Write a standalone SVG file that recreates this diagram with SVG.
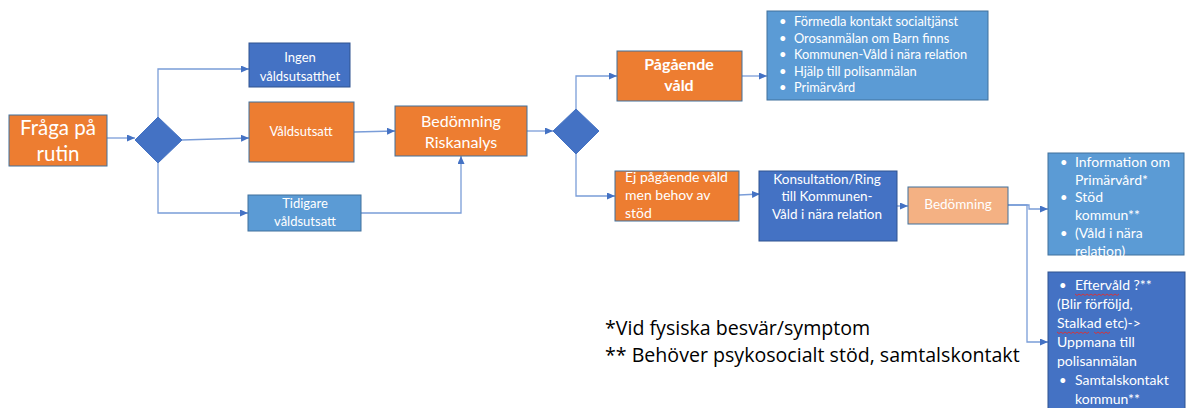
<svg xmlns="http://www.w3.org/2000/svg" width="1186" height="408" viewBox="0 0 1186 408" font-size="13">
<style>
text{font-family:Lato,"Liberation Sans",sans-serif;fill:#fff}
.c{text-anchor:middle}
.orange{fill:#ED7D31;stroke:#41719C;stroke-width:1}
.dblue{fill:#4472C4;stroke:#2F528F;stroke-width:1}
.lblue{fill:#5B9BD5;stroke:#41719C;stroke-width:1}
.peach{fill:#F4B183;stroke:#41719C;stroke-width:1}
.conn path{fill:none;stroke:#7A9DD8;stroke-width:1.3;marker-end:url(#ah)}
.foot{fill:#000;font-size:19.6px;font-family:"Open Sans",Lato,"Liberation Sans",sans-serif}
.squig{fill:none;stroke:#E03030;stroke-width:0.9}
</style>
<defs>
<marker id="ah" markerUnits="userSpaceOnUse" markerWidth="9" markerHeight="8" refX="8" refY="3.5" orient="auto">
<path d="M0,0 L8,3.5 L0,7 z" fill="#4472C4"/>
</marker>
</defs>
<rect width="1186" height="408" fill="#fff"/>

<g class="conn">
<path d="M107,138 H135"/>
<path d="M158,117 V69 H249"/>
<path d="M182,140 L249,138"/>
<path d="M158,163 V213 H248"/>
<path d="M354,132 L395,131"/>
<path d="M361,213 H461 V156"/>
<path d="M527,131 H553"/>
<path d="M576,109 V76 H617"/>
<path d="M576,154 V196 H615"/>
<path d="M742,76 H767"/>
<path d="M739,195 L760,194"/>
<path d="M897,206 H908"/>
<path d="M1008,205 H1029 V209 H1048"/>
<path d="M1008,205 H1027 V342 H1048"/>
</g>

<g id="fraga">
<rect class="orange" x="9" y="115" width="98" height="51"/>
<text class="c" x="58" y="135" font-size="20.5">Fråga på</text>
<text class="c" x="58" y="161" font-size="20.5">rutin</text>
</g>

<g id="diamond1">
<path class="dblue" d="M158,117 L182,140 L158,163 L135,140 z" style="stroke:#4472C4"/>
</g>

<g id="ingen">
<rect class="dblue" x="249" y="43" width="101" height="44"/>
<text class="c" x="300" y="62">Ingen</text>
<text class="c" x="300" y="81">våldsutsatthet</text>
</g>

<g id="valdsutsatt">
<rect class="orange" x="249" y="102" width="105" height="60"/>
<text class="c" x="301" y="136">Våldsutsatt</text>
</g>

<g id="tidigare">
<rect class="lblue" x="248" y="195" width="113" height="36"/>
<text class="c" x="305" y="208">Tidigare</text>
<text class="c" x="305" y="226">våldsutsatt</text>
</g>

<g id="bedomning-risk">
<rect class="orange" x="395" y="106" width="132" height="50"/>
<text class="c" x="461" y="127" font-size="16">Bedömning</text>
<text class="c" x="461" y="148" font-size="16">Riskanalys</text>
</g>

<g id="diamond2">
<path class="dblue" d="M576,109 L599,131 L576,154 L553,131 z" style="stroke:#4472C4"/>
</g>

<g id="pagaende">
<rect class="orange" x="617" y="51" width="125" height="50"/>
<text class="c" x="679" y="70" font-size="16" font-weight="bold">Pågående</text>
<text class="c" x="679" y="91" font-size="16" font-weight="bold">våld</text>
</g>

<g id="atgarder">
<rect class="lblue" x="767" y="11" width="221" height="89"/>
<text x="779" y="26">•</text><text x="794" y="26" font-size="12.8">Förmedla kontakt socialtjänst</text>
<text x="779" y="43">•</text><text x="794" y="43" font-size="12.8">Orosanmälan om Barn finns</text>
<text x="779" y="59">•</text><text x="794" y="59" font-size="12.8">Kommunen-Våld i nära relation</text>
<text x="779" y="76">•</text><text x="794" y="76" font-size="12.8">Hjälp till polisanmälan</text>
<text x="779" y="92">•</text><text x="794" y="92" font-size="12.8">Primärvård</text>
</g>

<g id="ej-pagaende">
<rect class="orange" x="615" y="171" width="124" height="50"/>
<text x="625" y="182" font-size="14">Ej pågående våld</text>
<text x="625" y="200" font-size="14">men behov av</text>
<text x="625" y="218" font-size="14">stöd</text>
</g>

<g id="konsultation">
<rect class="dblue" x="759" y="171" width="138" height="70"/>
<text class="c" x="827" y="184" font-size="13.5">Konsultation/Ring</text>
<text class="c" x="827" y="201" font-size="13.5">till Kommunen-</text>
<text class="c" x="827" y="219" font-size="13.5">Våld i nära relation</text>
</g>

<g id="bedomning2">
<rect class="peach" x="908" y="187" width="100" height="37"/>
<text class="c" x="958" y="209" font-size="13.5">Bedömning</text>
</g>

<g id="information">
<rect class="lblue" x="1048" y="153" width="136" height="102"/>
<text x="1060" y="167">•</text><text x="1075" y="167" font-size="14">Information om</text>
<text x="1075" y="185" font-size="14">Primärvård*</text>
<text x="1060" y="202">•</text><text x="1075" y="202" font-size="14">Stöd</text>
<text x="1075" y="220" font-size="14">kommun**</text>
<text x="1060" y="238">•</text><text x="1075" y="238" font-size="14"> (Våld i nära</text>
<text x="1075" y="256" font-size="14">relation)</text>
</g>

<g id="eftervald">
<rect class="dblue" x="1048" y="272" width="137" height="140"/>
<text x="1059" y="290">•</text><text x="1075" y="290" font-size="14">Eftervåld ?**</text>
<text x="1057" y="309" font-size="14">(Blir förföljd,</text>
<text x="1057" y="328" font-size="14">Stalkad etc)-&gt;</text>
<text x="1057" y="347" font-size="14">Uppmana till</text>
<text x="1057" y="366" font-size="14">polisanmälan</text>
<text x="1059" y="385">•</text><text x="1075" y="385" font-size="14">Samtalskontakt</text>
<text x="1075" y="404" font-size="14">kommun**</text>
<path class="squig" d="M1075,294 l2,1.5 l2,-1.5 l2,1.5 l2,-1.5 l2,1.5 l2,-1.5 l2,1.5 l2,-1.5 l2,1.5 l2,-1.5 l2,1.5 l2,-1.5 l2,1.5 l2,-1.5 l2,1.5 l2,-1.5 l2,1.5 l2,-1.5 l2,1.5 l2,-1.5 l2,1.5 l2,-1.5"/>
<path class="squig" d="M1057,332 l2,1.5 l2,-1.5 l2,1.5 l2,-1.5 l2,1.5 l2,-1.5 l2,1.5 l2,-1.5 l2,1.5 l2,-1.5 l2,1.5 l2,-1.5 l2,1.5 l2,-1.5 l2,1.5 l2,-1.5"/>
<path class="squig" d="M1094,332 l2,1.5 l2,-1.5 l2,1.5 l2,-1.5 l2,1.5 l2,-1.5 l2,1.5 l2,-1.5"/>
</g>

<g id="fotnoter">
<text class="foot" x="605" y="335">*Vid fysiska besvär/symptom</text>
<text class="foot" x="605" y="362">** Behöver psykosocialt stöd, samtalskontakt</text>
</g>
</svg>
